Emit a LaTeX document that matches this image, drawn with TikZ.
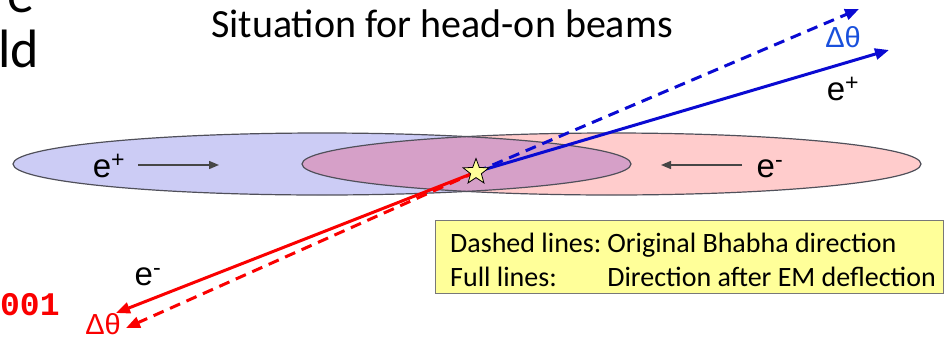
\documentclass[tikz,border=0pt]{standalone}
\usepackage{fontspec}
\setmainfont{Carlito}
\newfontfamily\arialf{Liberation Sans}
\newfontfamily\monof{Liberation Mono}
\usetikzlibrary{shapes.geometric,arrows.meta}
\definecolor{bluefill}{RGB}{204,204,245}
\definecolor{pinkfill}{RGB}{255,204,204}
\definecolor{overlapfill}{RGB}{214,160,200}
\definecolor{linecol}{RGB}{80,80,90}
\definecolor{arrowblue}{RGB}{10,10,210}
\definecolor{labelblue}{RGB}{25,80,220}
\definecolor{arrowred}{RGB}{250,0,0}
\definecolor{boxyellow}{RGB}{255,255,153}
\tikzset{
  beamout/.style={line width=3pt, -{Triangle[length=14pt,width=11pt]}},
  beamdash/.style={beamout, dash pattern=on 11pt off 7pt},
  motion/.style={line width=1.4pt, draw={rgb,255:red,70;green,70;blue,70}, -{Triangle[length=10pt,width=8pt]}},
  lab/.style={inner sep=0pt, font=\arialf\fontsize{33}{38}\selectfont},
  dlab/.style={inner sep=0pt, font=\arialf\fontsize{29}{34}\selectfont},
}
\begin{document}
\begin{tikzpicture}[x=1pt,y=-1pt]
\useasboundingbox (0,0) rectangle (945,338);
\clip (0,0) rectangle (945,338);

% beams
\fill[bluefill] (322,164) ellipse [x radius=309, y radius=31];
\fill[pinkfill] (611.5,164) ellipse [x radius=309.5, y radius=31];
\begin{scope}
  \clip (322,164) ellipse [x radius=309, y radius=31];
  \fill[overlapfill] (611.5,164) ellipse [x radius=309.5, y radius=31];
\end{scope}
\draw[linecol, line width=1.2pt] (322,164) ellipse [x radius=309, y radius=31];
\draw[linecol, line width=1.2pt] (611.5,164) ellipse [x radius=309.5, y radius=31];

% beam labels
\node[lab, anchor=base] (ep) at (109,177) {e\textsuperscript{+}};
\coordinate (epa) at (138,165);
\coordinate (epb) at (219,165);
\draw[motion] (epa) -- (epb);
\node[lab, anchor=base] (em) at (770,177) {e\textsuperscript{-}};
\coordinate (ema) at (742,165);
\coordinate (emb) at (661,165);
\draw[motion] (ema) -- (emb);

% title and cut-off text
\node[inner sep=0pt, anchor=base, font=\fontsize{40}{48}\selectfont] (title) at (442,37) {Situation for head-on beams};
\node[inner sep=0pt, anchor=base east, font=\fontsize{54}{60}\selectfont] (t1) at (35,12) {re};
\node[inner sep=0pt, anchor=base east, font=\fontsize{54}{60}\selectfont] (t2) at (39,67) {ld};
\node[inner sep=0pt, anchor=base west, text=arrowred, font=\monof\bfseries\fontsize{33}{38}\selectfont] (num) at (0,315) {001};

% scattered particles
\coordinate (c) at (476,172);
\coordinate (bfull) at (889,50);
\coordinate (bdash) at (859,9);
\coordinate (rfull) at (116,313);
\coordinate (rdash) at (126,328);
\draw[beamdash, arrowblue] (c) -- (bdash);
\draw[beamout, arrowblue] (c) -- (bfull);
\draw[beamdash, arrowred] (c) -- (rdash);
\draw[beamout, arrowred] (c) -- (rfull);
\node[star, star points=5, star point ratio=2.4, minimum size=27pt, inner sep=0pt, draw=black, line width=0.8pt, fill=boxyellow] (s) at (c) {};

\node[dlab, text=labelblue] (dtb) at (843,37) {Δθ};
\node[lab, anchor=base] (epo) at (843,100) {e\textsuperscript{+}};
\node[dlab, text=arrowred] (dtr) at (103,324) {Δθ};
\node[lab, anchor=base] (emo) at (148,285) {e\textsuperscript{-}};

% legend box
\node[draw={rgb,255:red,120;green,120;blue,120}, line width=1.2pt, fill=boxyellow, minimum width=508pt, minimum height=73pt, anchor=north west, inner sep=0pt] (box) at (435,220) {};
\node[inner sep=0pt, anchor=base west, font=\fontsize{28}{34}\selectfont] (legend) at (450,252)
  {\begin{tabular}[t]{@{}l@{\hspace{6pt}}l@{}}Dashed lines: & Original Bhabha direction\\ Full lines: & Direction after EM deflection\end{tabular}};
\end{tikzpicture}
\end{document}
